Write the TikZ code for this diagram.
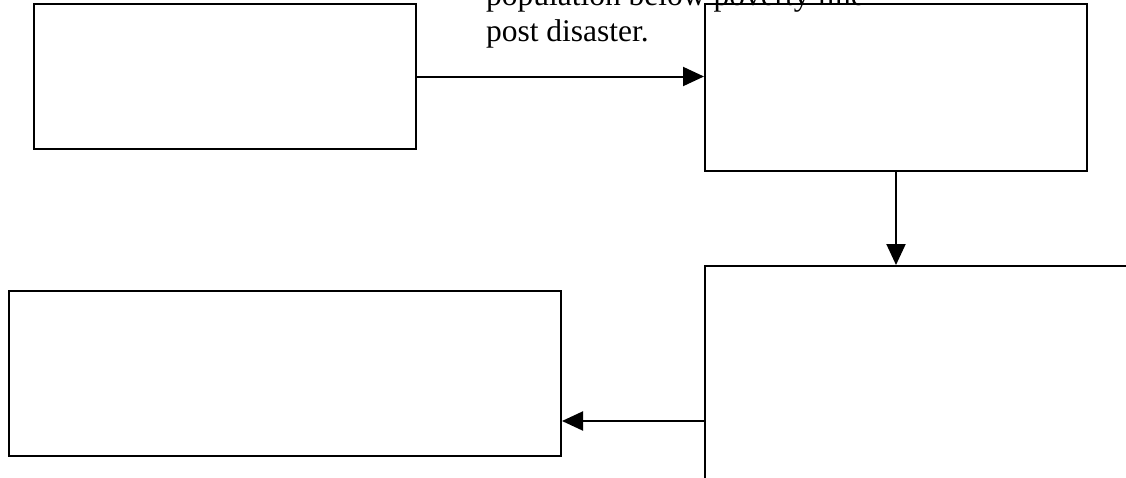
\documentclass[tikz,border=0pt]{standalone}
\usepackage{fontspec}
\setmainfont{Liberation Serif}
\usetikzlibrary{positioning, arrows.meta}
\tikzset{
->, % every line here ends in a head
>={Triangle[length=21pt,width=19pt]}, % filled triangle heads
every node/.style={inner sep=0pt},
blank/.style={draw, line width=2pt, rectangle, anchor=north west}, % empty boxes
}

\begin{document}
\begin{tikzpicture}[x=1pt, y=-1pt, line width=2pt]
\useasboundingbox (0,0) rectangle (1126,477);
\clip (0,0) rectangle (1126,477);
\node[blank, minimum width=382pt, minimum height=145pt] (cause) at (33,3) {};
\node[blank, minimum width=382pt, minimum height=167pt] (poor) at (704,3) {};
\node[blank, minimum width=450pt, minimum height=310pt] (relief) at (704,265) {};
\node[blank, minimum width=552pt, minimum height=165pt] (impact) at (8,290) {};
\node[anchor=south west, align=left, font=\fontsize{31.5}{36}\selectfont] (note) at (485,49)
  {population below poverty line\\post disaster.};
\draw (cause.east) -- (cause.east -| poor.west);
\draw (poor.south) -- (poor.south |- relief.north);
\draw (relief.west) -- (relief.west -| impact.east);
\end{tikzpicture}
\end{document}
